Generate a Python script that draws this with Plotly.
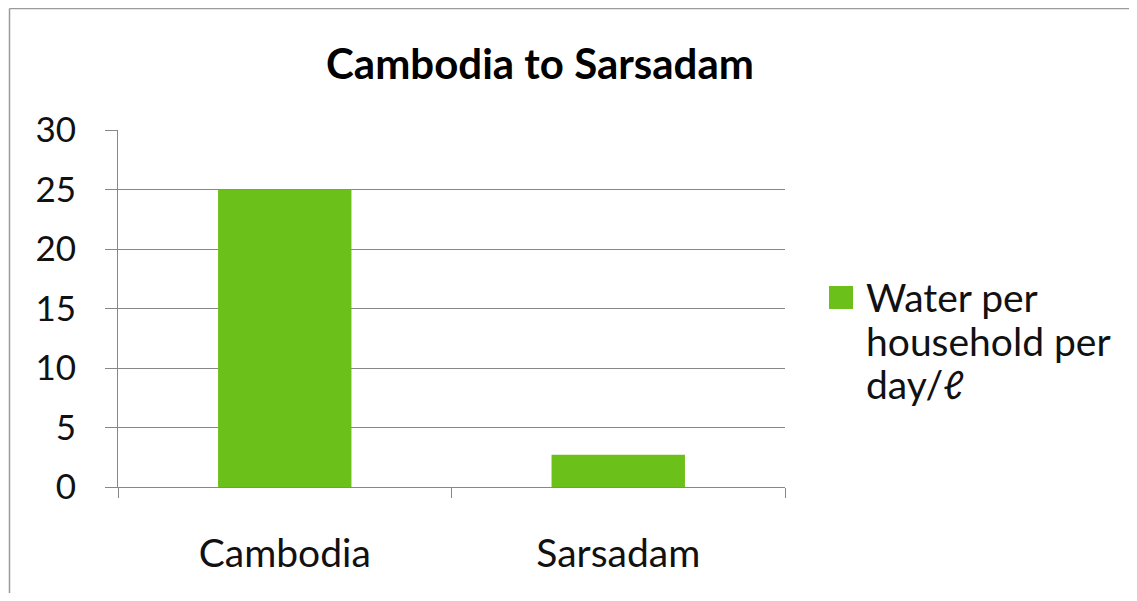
import plotly.graph_objects as go

categories = ["Cambodia", "Sarsadam"]
water_per_household = [25, 2.7]
series_name = "Water per<br>household per<br>day/ℓ"
y_ticks = [0, 5, 10, 15, 20, 25, 30]

# page body adds an 8px offset; work in reference screen pixels and convert
OFF = 8
SW, SH = 1137, 601
W, H = SW - 2 * OFF, SH - 2 * OFF
# plot area in reference screen pixels
PX0, PX1, PY0, PY1 = 118, 785, 130, 487
L, R = PX0 - OFF, W - (PX1 - OFF)
T, B = PY0 - OFF, H - (PY1 - OFF)
pw, ph = PX1 - PX0, PY1 - PY0

def px_x(x):
    return (x - PX0) / pw

def px_y(y):
    return (PY1 - y) / ph

FONT = "Lato"
GREEN = "#6cc01a"
GRID = "#878787"
TXT = "#111111"

fig = go.Figure()
fig.add_trace(go.Bar(
    x=categories, y=water_per_household, name=series_name,
    marker=dict(color=GREEN, line=dict(width=0)),
    width=0.4, showlegend=False,
))

fig.update_layout(
    width=W, height=H,
    margin=dict(l=L, r=R, t=T, b=B),
    paper_bgcolor="white", plot_bgcolor="white",
    font=dict(family=FONT, color=TXT),
    title=dict(text="<b>Cambodia to Sarsadam</b>", x=(540 - OFF) / W, xanchor="center",
               y=1 - (64 - OFF) / H, yanchor="middle",
               font=dict(size=42, family=FONT, color="#000000")),
)
fig.update_yaxes(
    range=[0, 30], tickvals=y_ticks, showgrid=True, gridcolor=GRID, gridwidth=1,
    showline=True, linecolor=GRID, linewidth=1, ticks="outside", ticklen=12,
    tickcolor=GRID, tickfont=dict(size=35, family=FONT, color=TXT),
    ticklabelstandoff=22, zeroline=False,
)
fig.update_xaxes(
    showline=True, linecolor=GRID, linewidth=1, ticks="outside", tickson="boundaries",
    ticklen=10, tickcolor=GRID, tickfont=dict(size=39, family=FONT, color=TXT),
    ticklabelstandoff=32, showgrid=False,
)
# chart frame (left and top edges visible)
FRAME = dict(color="#9a9a9a", width=1.5)
fig.add_shape(type="line", xref="paper", yref="paper",
              x0=px_x(9.5), x1=px_x(9.5), y0=px_y(SH + 30), y1=px_y(8.5),
              line=FRAME, layer="below")
fig.add_shape(type="line", xref="paper", yref="paper",
              x0=px_x(9.5), x1=px_x(SW + 30), y0=px_y(8.5), y1=px_y(8.5),
              line=FRAME, layer="below")
# legend key
fig.add_shape(type="rect", xref="paper", yref="paper",
              x0=px_x(829), x1=px_x(853), y0=px_y(309), y1=px_y(286),
              line=dict(width=0), fillcolor=GREEN)
line_centers = [297, 340.5, 384]
for txt, yc in zip(series_name.split("<br>"), line_centers):
    fig.add_annotation(text=txt, xref="paper", yref="paper",
                       x=px_x(864), y=px_y(yc), xanchor="left", yanchor="middle",
                       align="left", showarrow=False,
                       font=dict(size=39, family=FONT, color=TXT))

fig.write_html("out.html")
